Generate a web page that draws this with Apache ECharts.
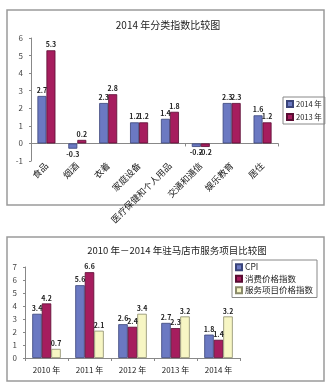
<!DOCTYPE html>
<html>
<head>
<meta charset="utf-8">
<script src="https://cdn.jsdelivr.net/npm/echarts@6/dist/echarts.min.js"></script>
<style>
  html, body { margin: 0; padding: 0; background: #fff; }
  #chart { width: 333px; height: 387px; }
</style>
</head>
<body>
<div id="chart"></div>
<script>
// 2014 category indices
const classCategories = ['食品', '烟酒', '衣着', '家庭设备', '医疗保健和个人用品', '交通和通信', '娱乐教育', '居住'];
const classNames = ['2014 年', '2013 年'];
const class2014 = [2.7, -0.3, 2.3, 1.2, 1.4, -0.2, 2.3, 1.6];
const class2013 = [5.3, 0.2, 2.8, 1.2, 1.8, -0.2, 2.3, 1.2];
const classTicks = [-1, 0, 1, 2, 3, 4, 5, 6];

// 2010-2014 services comparison
const yearCategories = ['2010 年', '2011 年', '2012 年', '2013 年', '2014 年'];
const serviceNames = ['CPI', '消费价格指数', '服务项目价格指数'];
const cpiValues = [3.4, 5.6, 2.6, 2.7, 1.8];
const consumerValues = [4.2, 6.6, 2.4, 2.3, 1.4];
const serviceValues = [0.7, 2.1, 3.4, 3.2, 3.2];
const yearTicks = [0, 1, 2, 3, 4, 5, 6, 7];

const FONT = '"Noto Sans CJK SC", "DejaVu Sans", sans-serif';
const BLUE = '#6b79c2';
const MAROON = '#a61d5e';
const CREAM = '#f7f6c4';

function withLabels(values) {
  return values.map(v => ({
    value: v,
    label: { position: v < 0 ? 'bottom' : 'top' }
  }));
}

const barLabel = {
  show: true,
  fontSize: 7,
  fontWeight: 'bold',
  color: '#222',
  fontFamily: FONT,
  distance: 2,
  formatter: p => p.value.toFixed(1)
};

function bar(name, values, color, border, xi, yi, width) {
  return {
    name: name,
    type: 'bar',
    xAxisIndex: xi,
    yAxisIndex: yi,
    barWidth: width,
    barGap: '0%',
    data: withLabels(values),
    itemStyle: { color: color, borderColor: border, borderWidth: 0.8 },
    label: barLabel
  };
}

const chart = echarts.init(document.getElementById('chart'), null, { renderer: 'canvas' });

chart.setOption({
  animation: false,
  backgroundColor: '#fff',
  graphic: [
    { type: 'rect', shape: { x: 7, y: 10, width: 317, height: 195 },
      style: { fill: 'none', stroke: '#9a9a9a', lineWidth: 1.5 }, z: -1 },
    { type: 'rect', shape: { x: 7, y: 237, width: 317, height: 144 },
      style: { fill: 'none', stroke: '#9a9a9a', lineWidth: 1.5 }, z: -1 }
  ],
  title: [
    { text: '2014 年分类指数比较图', left: 163, top: 15, textAlign: 'center',
      textStyle: { fontSize: 10, fontWeight: 'normal', color: '#222', fontFamily: FONT } },
    { text: '2010 年－2014 年驻马店市服务项目比较图', left: 172, top: 241, textAlign: 'center',
      textStyle: { fontSize: 9.5, fontWeight: 'normal', color: '#222', fontFamily: FONT } }
  ],
  legend: [
    { data: classNames, orient: 'vertical', left: 283, top: 97,
      itemWidth: 6, itemHeight: 6, itemGap: 5, padding: [3, 3, 3, 3],
      borderColor: '#888', borderWidth: 1, borderRadius: 0,
      icon: 'rect', textStyle: { fontSize: 7.5, color: '#222', fontFamily: FONT, padding: [0, 0, 0, -2] } },
    { data: serviceNames, orient: 'vertical', left: 232, top: 260,
      itemWidth: 6, itemHeight: 6, itemGap: 3, padding: [3, 4, 3, 3],
      borderColor: '#888', borderWidth: 1, borderRadius: 0,
      icon: 'rect', textStyle: { fontSize: 8.5, color: '#222', fontFamily: FONT, padding: [0, 0, 0, -2] } }
  ],
  grid: [
    { left: 31, right: 55, top: 38, bottom: 226 },
    { left: 25, right: 93, top: 267, bottom: 29 }
  ],
  xAxis: [
    { type: 'category', gridIndex: 0, data: classCategories,
      axisLine: { onZero: true, lineStyle: { color: '#888', width: 1 } },
      axisTick: { show: true, length: 3, lineStyle: { color: '#888' } },
      axisLabel: { show: false } },
    { type: 'category', gridIndex: 0, position: 'bottom', data: classCategories,
      axisLine: { show: false, onZero: false },
      axisTick: { show: false },
      axisLabel: { rotate: 45, fontSize: 9, color: '#222', fontFamily: FONT, margin: 3, interval: 0 } },
    { type: 'category', gridIndex: 1, data: yearCategories,
      axisLine: { lineStyle: { color: '#888', width: 1 } },
      axisTick: { show: true, length: 3, lineStyle: { color: '#888' } },
      axisLabel: { fontSize: 8, color: '#222', fontFamily: FONT, margin: 8, interval: 0 } }
  ],
  yAxis: [
    { type: 'value', gridIndex: 0, min: classTicks[0], max: classTicks[classTicks.length - 1], interval: 1,
      axisLine: { show: true, lineStyle: { color: '#888' } },
      axisTick: { show: true, length: 2, lineStyle: { color: '#888' } },
      splitLine: { show: false },
      axisLabel: { fontSize: 8, color: '#444', fontFamily: FONT, margin: 8 } },
    { type: 'value', gridIndex: 1, min: yearTicks[0], max: yearTicks[yearTicks.length - 1], interval: 1,
      axisLine: { show: true, lineStyle: { color: '#888' } },
      axisTick: { show: true, length: 2, lineStyle: { color: '#888' } },
      splitLine: { show: false },
      axisLabel: { fontSize: 8, color: '#444', fontFamily: FONT, margin: 8 } }
  ],
  series: [
    bar(classNames[0], class2014, BLUE, '#3a447a', 0, 0, 9),
    bar(classNames[1], class2013, MAROON, '#5a0c32', 0, 0, 9),
    bar(serviceNames[0], cpiValues, BLUE, '#3a447a', 2, 1, 9.5),
    bar(serviceNames[1], consumerValues, MAROON, '#5a0c32', 2, 1, 9.5),
    bar(serviceNames[2], serviceValues, CREAM, '#8a8a6a', 2, 1, 9.5)
  ]
});
</script>
</body>
</html>
